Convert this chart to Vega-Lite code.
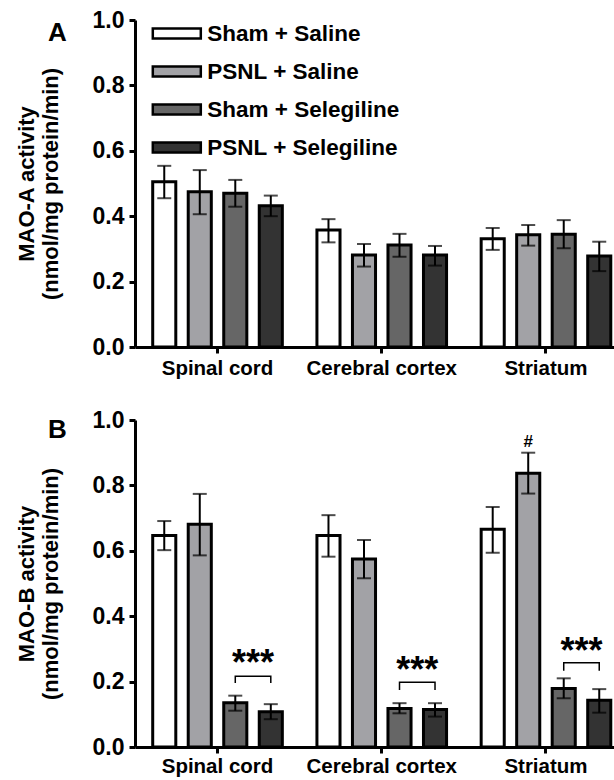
{
  "$schema": "https://vega.github.io/schema/vega-lite/v6.json",
  "padding": {"left": 15, "top": 9, "right": 0, "bottom": 0},
  "background": "white",
  "bounds": "flush",
  "spacing": 73,
  "config": {
    "view": {"stroke": null},
    "font": "Liberation Sans",
    "axis": {
      "labelFont": "Liberation Sans", "labelFontWeight": "bold", "labelColor": "black",
      "titleFont": "Liberation Sans", "titleFontWeight": "bold", "titleColor": "black",
      "domainColor": "black", "tickColor": "black", "grid": false
    },
    "legend": {
      "labelFont": "Liberation Sans", "labelFontWeight": "bold", "labelColor": "black"
    }
  },
  "datasets": {
    "maoa": [
      {"region": "Spinal cord", "group": "Sham + Saline", "mean": 0.505, "lo": 0.455, "hi": 0.554},
      {"region": "Spinal cord", "group": "PSNL + Saline", "mean": 0.475, "lo": 0.406, "hi": 0.541},
      {"region": "Spinal cord", "group": "Sham + Selegiline", "mean": 0.470, "lo": 0.429, "hi": 0.511},
      {"region": "Spinal cord", "group": "PSNL + Selegiline", "mean": 0.432, "lo": 0.400, "hi": 0.463},
      {"region": "Cerebral cortex", "group": "Sham + Saline", "mean": 0.358, "lo": 0.320, "hi": 0.391},
      {"region": "Cerebral cortex", "group": "PSNL + Saline", "mean": 0.281, "lo": 0.246, "hi": 0.315},
      {"region": "Cerebral cortex", "group": "Sham + Selegiline", "mean": 0.312, "lo": 0.276, "hi": 0.346},
      {"region": "Cerebral cortex", "group": "PSNL + Selegiline", "mean": 0.281, "lo": 0.249, "hi": 0.309},
      {"region": "Striatum", "group": "Sham + Saline", "mean": 0.331, "lo": 0.297, "hi": 0.364},
      {"region": "Striatum", "group": "PSNL + Saline", "mean": 0.343, "lo": 0.310, "hi": 0.373},
      {"region": "Striatum", "group": "Sham + Selegiline", "mean": 0.345, "lo": 0.302, "hi": 0.388},
      {"region": "Striatum", "group": "PSNL + Selegiline", "mean": 0.278, "lo": 0.232, "hi": 0.322}
    ],
    "maob": [
      {"region": "Spinal cord", "group": "Sham + Saline", "mean": 0.647, "lo": 0.602, "hi": 0.691},
      {"region": "Spinal cord", "group": "PSNL + Saline", "mean": 0.681, "lo": 0.586, "hi": 0.774},
      {"region": "Spinal cord", "group": "Sham + Selegiline", "mean": 0.135, "lo": 0.111, "hi": 0.157},
      {"region": "Spinal cord", "group": "PSNL + Selegiline", "mean": 0.108, "lo": 0.085, "hi": 0.131},
      {"region": "Cerebral cortex", "group": "Sham + Saline", "mean": 0.647, "lo": 0.582, "hi": 0.709},
      {"region": "Cerebral cortex", "group": "PSNL + Saline", "mean": 0.575, "lo": 0.516, "hi": 0.633},
      {"region": "Cerebral cortex", "group": "Sham + Selegiline", "mean": 0.118, "lo": 0.103, "hi": 0.134},
      {"region": "Cerebral cortex", "group": "PSNL + Selegiline", "mean": 0.115, "lo": 0.093, "hi": 0.134},
      {"region": "Striatum", "group": "Sham + Saline", "mean": 0.666, "lo": 0.594, "hi": 0.734},
      {"region": "Striatum", "group": "PSNL + Saline", "mean": 0.837, "lo": 0.775, "hi": 0.900},
      {"region": "Striatum", "group": "Sham + Selegiline", "mean": 0.179, "lo": 0.149, "hi": 0.210},
      {"region": "Striatum", "group": "PSNL + Selegiline", "mean": 0.143, "lo": 0.105, "hi": 0.177}
    ],
    "brackets": [
      {"region": "Spinal cord", "group": "Sham + Selegiline", "y": 0.196, "ord": 1},
      {"region": "Spinal cord", "group": "Sham + Selegiline", "y": 0.216, "ord": 2},
      {"region": "Spinal cord", "group": "PSNL + Selegiline", "y": 0.216, "ord": 3},
      {"region": "Spinal cord", "group": "PSNL + Selegiline", "y": 0.196, "ord": 4},
      {"region": "Cerebral cortex", "group": "Sham + Selegiline", "y": 0.174, "ord": 1},
      {"region": "Cerebral cortex", "group": "Sham + Selegiline", "y": 0.198, "ord": 2},
      {"region": "Cerebral cortex", "group": "PSNL + Selegiline", "y": 0.198, "ord": 3},
      {"region": "Cerebral cortex", "group": "PSNL + Selegiline", "y": 0.174, "ord": 4},
      {"region": "Striatum", "group": "Sham + Selegiline", "y": 0.233, "ord": 1},
      {"region": "Striatum", "group": "Sham + Selegiline", "y": 0.258, "ord": 2},
      {"region": "Striatum", "group": "PSNL + Selegiline", "y": 0.258, "ord": 3},
      {"region": "Striatum", "group": "PSNL + Selegiline", "y": 0.233, "ord": 4}
    ],
    "stars": [
      {"region": "Spinal cord", "group": "Sham + Selegiline", "y": 0.219, "label": "***"},
      {"region": "Cerebral cortex", "group": "Sham + Selegiline", "y": 0.199, "label": "***"},
      {"region": "Striatum", "group": "Sham + Selegiline", "y": 0.257, "label": "***"},
      {"region": "Striatum", "group": "PSNL + Saline", "y": 0.917, "label": "#"}
    ]
  },
  "resolve": {"legend": {"fill": "independent"}},
  "vconcat": [
    {
      "width": 482,
      "height": 327,
      "data": {"name": "maoa"},
      "encoding": {
        "x": {"field": "region", "type": "nominal", "sort": ["Spinal cord", "Cerebral cortex", "Striatum"],
              "scale": {"paddingInner": 0.135, "paddingOuter": 0.035, "align": 1},
              "axis": {"title": "A", "titleAngle": 0, "titleAlign": "center", "titleBaseline": "alphabetic", "titleFontSize": 26,
                       "titleX": -78, "titleY": -307,
                       "labelAngle": 0, "labelFontSize": 20.5, "tickSize": 6, "tickWidth": 3, "domainWidth": 3, "labelPadding": 5}},
        "xOffset": {"field": "group", "type": "nominal",
                    "scale": {"domain": ["Sham + Saline", "PSNL + Saline", "Sham + Selegiline", "PSNL + Selegiline"], "paddingInner": 0.35, "paddingOuter": 0.175}}
      },
      "layer": [
        {
          "mark": {"type": "bar", "stroke": "black", "strokeWidth": 3},
          "encoding": {
            "y": {"field": "mean", "type": "quantitative", "scale": {"domain": [0, 1]},
                  "axis": {"title": ["MAO-A activity", "(nmol/mg protein/min)"], "values": [0, 0.2, 0.4, 0.6, 0.8, 1.0], "format": ".1f",
                           "labelFontSize": 23, "tickSize": 6, "tickWidth": 3, "domainWidth": 3, "labelPadding": 5,
                           "titleFontSize": 22, "titleLineHeight": 24, "titlePadding": 29.5}},
            "fill": {"field": "group", "type": "nominal",
                     "scale": {"domain": ["Sham + Saline", "PSNL + Saline", "Sham + Selegiline", "PSNL + Selegiline"],
                               "range": ["#ffffff", "#a2a2a6", "#666666", "#333333"]},
                     "legend": {"title": null, "orient": "none", "legendX": 30.3, "legendY": 2, "padding": 0,
                                "symbolType": "M-2.4,-0.5H2.4V0.5H-2.4Z", "symbolSize": 400,
                                "symbolStrokeColor": "black", "symbolStrokeWidth": 2.5,
                                "labelFontSize": 22.5, "labelOffset": 19, "labelLimit": 400, "rowPadding": 15}}
          }
        },
        {
          "mark": {"type": "rule", "color": "black", "strokeWidth": 2},
          "encoding": {"y": {"field": "lo", "type": "quantitative", "title": ["MAO-A activity", "(nmol/mg protein/min)"]}, "y2": {"field": "hi"}}
        },
        {
          "mark": {"type": "tick", "color": "black", "thickness": 2, "size": 14},
          "encoding": {"y": {"field": "lo", "type": "quantitative", "title": ["MAO-A activity", "(nmol/mg protein/min)"]}}
        },
        {
          "mark": {"type": "tick", "color": "black", "thickness": 2, "size": 14},
          "encoding": {"y": {"field": "hi", "type": "quantitative", "title": ["MAO-A activity", "(nmol/mg protein/min)"]}}
        }
      ]
    },
    {
      "width": 482,
      "height": 327,
      "encoding": {
        "x": {"field": "region", "type": "nominal", "sort": ["Spinal cord", "Cerebral cortex", "Striatum"],
              "scale": {"paddingInner": 0.135, "paddingOuter": 0.035, "align": 1},
              "axis": {"title": "B", "titleAngle": 0, "titleAlign": "center", "titleBaseline": "alphabetic", "titleFontSize": 26,
                       "titleX": -78, "titleY": -310,
                       "labelAngle": 0, "labelFontSize": 20.5, "tickSize": 6, "tickWidth": 3, "domainWidth": 3, "labelPadding": 3}},
        "xOffset": {"field": "group", "type": "nominal",
                    "scale": {"domain": ["Sham + Saline", "PSNL + Saline", "Sham + Selegiline", "PSNL + Selegiline"], "paddingInner": 0.35, "paddingOuter": 0.175}}
      },
      "layer": [
        {
          "data": {"name": "maob"},
          "mark": {"type": "bar", "stroke": "black", "strokeWidth": 3},
          "encoding": {
            "y": {"field": "mean", "type": "quantitative", "scale": {"domain": [0, 1]},
                  "axis": {"title": ["MAO-B activity", "(nmol/mg protein/min)"], "values": [0, 0.2, 0.4, 0.6, 0.8, 1.0], "format": ".1f",
                           "labelFontSize": 23, "tickSize": 6, "tickWidth": 3, "domainWidth": 3, "labelPadding": 5,
                           "titleFontSize": 22, "titleLineHeight": 24, "titlePadding": 29.5}},
            "fill": {"field": "group", "type": "nominal",
                     "scale": {"domain": ["Sham + Saline", "PSNL + Saline", "Sham + Selegiline", "PSNL + Selegiline"],
                               "range": ["#ffffff", "#a2a2a6", "#666666", "#333333"]},
                     "legend": null}
          }
        },
        {
          "data": {"name": "maob"},
          "mark": {"type": "rule", "color": "black", "strokeWidth": 2},
          "encoding": {"y": {"field": "lo", "type": "quantitative", "title": ["MAO-B activity", "(nmol/mg protein/min)"]}, "y2": {"field": "hi"}}
        },
        {
          "data": {"name": "maob"},
          "mark": {"type": "tick", "color": "black", "thickness": 2, "size": 14},
          "encoding": {"y": {"field": "lo", "type": "quantitative", "title": ["MAO-B activity", "(nmol/mg protein/min)"]}}
        },
        {
          "data": {"name": "maob"},
          "mark": {"type": "tick", "color": "black", "thickness": 2, "size": 14},
          "encoding": {"y": {"field": "hi", "type": "quantitative", "title": ["MAO-B activity", "(nmol/mg protein/min)"]}}
        },
        {
          "data": {"name": "brackets"},
          "mark": {"type": "line", "color": "black", "strokeWidth": 1.5},
          "encoding": {"y": {"field": "y", "type": "quantitative", "title": ["MAO-B activity", "(nmol/mg protein/min)"]},
                       "detail": {"field": "region"}, "order": {"field": "ord", "type": "quantitative"}}
        },
        {
          "data": {"name": "stars"},
          "transform": [{"filter": "datum.label == '***'"}],
          "mark": {"type": "text", "fontSize": 36, "fontWeight": "bold", "baseline": "alphabetic", "dx": 17.75, "color": "black", "font": "Liberation Sans"},
          "encoding": {"y": {"field": "y", "type": "quantitative", "title": ["MAO-B activity", "(nmol/mg protein/min)"]}, "text": {"field": "label"}}
        },
        {
          "data": {"name": "stars"},
          "transform": [{"filter": "datum.label == '#'"}],
          "mark": {"type": "text", "fontSize": 17, "fontWeight": "bold", "baseline": "alphabetic", "color": "black", "font": "Liberation Sans"},
          "encoding": {"y": {"field": "y", "type": "quantitative", "title": ["MAO-B activity", "(nmol/mg protein/min)"]}, "text": {"field": "label"}}
        }
      ]
    }
  ]
}
